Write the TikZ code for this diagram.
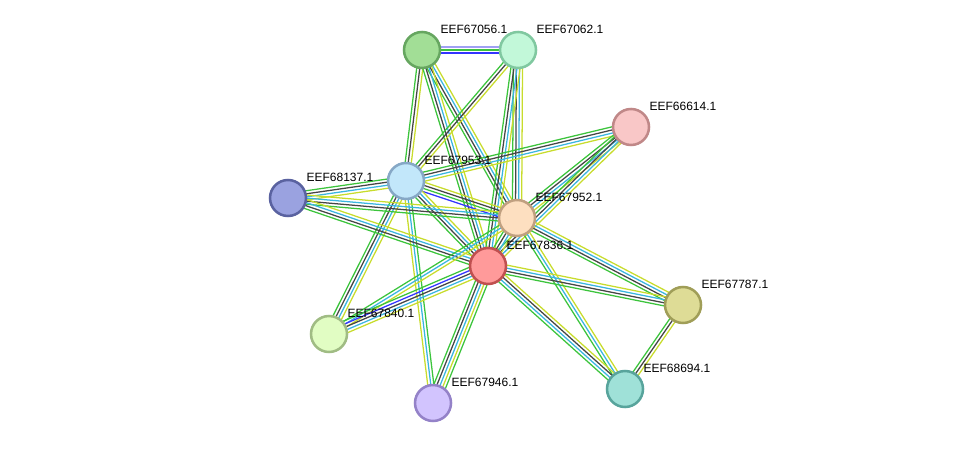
\documentclass[tikz,border=0pt]{standalone}
\usepackage{fontspec}
\setmainfont{Liberation Sans}
\usetikzlibrary{calc,backgrounds}
% evidence channel colours
\definecolor{egreen}{HTML}{3CC43C}
\definecolor{edark}{HTML}{454545}
\definecolor{ecyan}{HTML}{3AB5E0}
\definecolor{eyellow}{HTML}{C8DC2C}
\definecolor{eblue}{HTML}{3434FF}
\definecolor{elav}{HTML}{A0A0F4}
% protein fill / rim colours
\definecolor{f56}{HTML}{A2DE96}\definecolor{r56}{HTML}{66A660}
\definecolor{f62}{HTML}{C2F8D9}\definecolor{r62}{HTML}{80C8A0}
\definecolor{f14}{HTML}{F9C7C7}\definecolor{r14}{HTML}{C08888}
\definecolor{f53}{HTML}{C2E7FA}\definecolor{r53}{HTML}{86A8C6}
\definecolor{f37}{HTML}{9AA2E0}\definecolor{r37}{HTML}{5A62A0}
\definecolor{f52}{HTML}{FDDFC0}\definecolor{r52}{HTML}{C0A080}
\definecolor{f36}{HTML}{FF9A9A}\definecolor{r36}{HTML}{C05050}
\definecolor{f87}{HTML}{DEDC96}\definecolor{r87}{HTML}{A09E58}
\definecolor{f40}{HTML}{E1FDC3}\definecolor{r40}{HTML}{A0BC84}
\definecolor{f46}{HTML}{D2C4FE}\definecolor{r46}{HTML}{9482C8}
\definecolor{f94}{HTML}{9FE1D8}\definecolor{r94}{HTML}{58A49C}
% one coloured line per evidence channel, side by side
\newcommand{\ppi}[3]{%
  \foreach \c [count=\k] in {#3} {\xdef\nl{\k}}
  \foreach \c [count=\k] in {#3} {
    \pgfmathsetmacro\off{(\k-(\nl+1)/2)*2.3}
    \draw[\c] ($(#1)!\off pt!90:(#2)$) -- ($(#2)!\off pt!-90:(#1)$);
  }}
% protein circle plus its name
\newcommand{\prot}[4]{%
  \node[protein, fill=f#4, draw=r#4] (#1) at (#2) {};
  \node[plabel] (#1l) at ($(#1)+(18,-21)$) {#3};}

\begin{document}
\begin{tikzpicture}[x=0.75pt, y=-0.75pt,
    protein/.style={circle, minimum size=27pt, inner sep=0pt, line width=1.9pt},
    plabel/.style={anchor=west, inner sep=0pt, font=\fontsize{9}{10}\selectfont},
    every path/.style={line width=0.95pt}]
  \useasboundingbox (0,0) rectangle (975,449);
  % proteins
  \prot{p56}{422,50}{EEF67056.1}{56}
  \prot{p62}{518,50}{EEF67062.1}{62}
  \prot{p14}{631,127}{EEF66614.1}{14}
  \prot{p53}{406,181}{EEF67953.1}{53}
  \prot{p37}{288,198}{EEF68137.1}{37}
  \prot{p52}{517,218}{EEF67952.1}{52}
  \prot{p36}{488,266}{EEF67836.1}{36}
  \prot{p87}{683,305}{EEF67787.1}{87}
  \prot{p40}{329,334}{EEF67840.1}{40}
  \prot{p46}{433,403}{EEF67946.1}{46}
  \prot{p94}{625,389}{EEF68694.1}{94}
  % interactions, behind the circles
  \begin{scope}[on background layer]
    \ppi{p56}{p62}{eblue,egreen,elav}
    \ppi{p56}{p53}{egreen,edark,eyellow}
    \ppi{p56}{p52}{egreen,edark,ecyan,eyellow}
    \ppi{p56}{p36}{egreen,edark,ecyan,eyellow}
    \ppi{p62}{p53}{egreen,edark,eyellow}
    \ppi{p62}{p52}{egreen,edark,ecyan,eyellow}
    \ppi{p62}{p36}{egreen,edark,ecyan,eyellow}
    \ppi{p14}{p53}{egreen,edark,ecyan,eyellow}
    \ppi{p14}{p52}{egreen,edark,ecyan,eyellow}
    \ppi{p14}{p36}{egreen,edark,ecyan,eyellow}
    \ppi{p53}{p37}{egreen,edark,ecyan,eyellow}
    \ppi{p53}{p52}{eblue,egreen,edark,eyellow}
    \ppi{p53}{p36}{egreen,edark,ecyan,eyellow}
    \ppi{p53}{p40}{egreen,edark,ecyan,eyellow}
    \ppi{p53}{p46}{eyellow,ecyan,egreen}
    \ppi{p37}{p52}{egreen,edark,ecyan,eyellow}
    \ppi{p37}{p36}{egreen,edark,ecyan,eyellow}
    \ppi{p52}{p36}{egreen,edark,ecyan,eyellow}
    \ppi{p52}{p40}{egreen,ecyan,eyellow}
    \ppi{p52}{p87}{egreen,edark,ecyan,eyellow}
    \ppi{p52}{p94}{egreen,ecyan,eyellow}
    \ppi{p36}{p87}{egreen,edark,ecyan,eyellow}
    \ppi{p36}{p94}{egreen,ecyan,edark,eyellow}
    \ppi{p36}{p46}{egreen,edark,ecyan,eyellow,egreen}
    \ppi{p36}{p40}{egreen,eblue,edark,ecyan,eyellow}
    \ppi{p87}{p94}{egreen,edark,eyellow}
  \end{scope}
\end{tikzpicture}
\end{document}
